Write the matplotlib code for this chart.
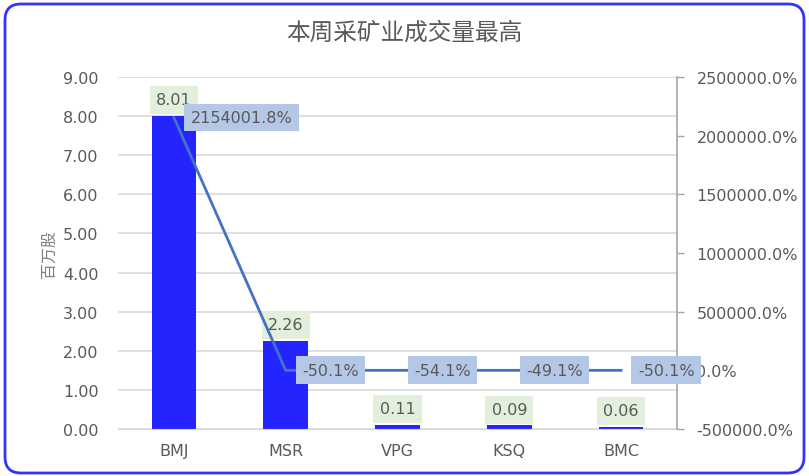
import matplotlib
matplotlib.use("Agg")
import matplotlib.pyplot as plt
from matplotlib.patches import FancyBboxPatch
from matplotlib.transforms import IdentityTransform
from matplotlib.ticker import FuncFormatter, MultipleLocator

plt.rcParams['font.family'] = ['DejaVu Sans', 'Noto Sans CJK SC']

categories = ["BMJ", "MSR", "VPG", "KSQ", "BMC"]
volume = [8.01, 2.26, 0.11, 0.09, 0.06]
change_pct = [2154001.8, -50.1, -54.1, -49.1, -50.1]
title = "本周采矿业成交量最高"
ylabel = "百万股"

W, H = 809, 477
fig = plt.figure(figsize=(W / 100, H / 100), dpi=100)
fig.patch.set_facecolor("white")

ax = fig.add_axes([118 / W, (H - 430) / H, (677 - 118) / W, (430 - 78) / H])
ax2 = ax.twinx()

text_color = "#595959"
grid_color = "#D9D9D9"
fs = 11.5

x = list(range(len(categories)))
ax.bar(x, volume, width=0.4, color="#2424FF", zorder=2)
ax.set_xlim(-0.5, len(categories) - 0.5)
ax.set_ylim(0, 9)
ax.yaxis.set_major_locator(MultipleLocator(1))
ax.yaxis.set_major_formatter(FuncFormatter(lambda v, p: f"{v:.2f}"))
ax.grid(axis="y", color=grid_color, linewidth=1.2, zorder=0)
ax.set_axisbelow(True)
for s in ["top", "left", "right"]:
    ax.spines[s].set_visible(False)
ax.spines["bottom"].set_color(grid_color)
ax.tick_params(axis="y", length=0, pad=14, labelsize=fs, labelcolor=text_color)
ax.tick_params(axis="x", length=0, pad=10, labelsize=fs, labelcolor=text_color)
ax.set_xticks(x)
ax.set_xticklabels(categories)
ax.set_ylabel(ylabel, family=["Noto Sans CJK SC"], fontsize=11.5, color="#7F7F7F", labelpad=4)

ax2.plot(x, change_pct, color="#4472C4", linewidth=2, zorder=3)
ax2.set_ylim(-500000, 2500000)
ax2.yaxis.set_major_locator(MultipleLocator(500000))
ax2.yaxis.set_major_formatter(FuncFormatter(lambda v, p: f"{v:.1f}%"))
for s in ["top", "left", "bottom"]:
    ax2.spines[s].set_visible(False)
ax2.spines["right"].set_color("#A6A6A6")
ax2.spines["right"].set_linewidth(1.2)
ax2.tick_params(axis="y", length=5, width=1, color="#A6A6A6", pad=9,
                labelsize=fs, labelcolor=text_color)

# bar data labels
for xi, v in zip(x, volume):
    ax.annotate(f"{v:.2f}", xy=(xi, v), xytext=(0, 6), textcoords="offset points",
                ha="center", va="bottom", fontsize=fs, color=text_color, zorder=5,
                bbox=dict(boxstyle="square,pad=0.4", facecolor="#E2EFDA", edgecolor="none"))

# line data labels
for xi, v in zip(x, change_pct):
    ax2.annotate(f"{v:.1f}%", xy=(xi, v), xytext=(12, 0), textcoords="offset points",
                 ha="left", va="center", fontsize=fs, color=text_color, zorder=6,
                 bbox=dict(boxstyle="square,pad=0.4", facecolor="#B4C7E7", edgecolor="none"))

fig.text(0.5, (H - 33) / H, title, ha="center", va="center", fontsize=17,
         color=text_color, family=["Noto Sans CJK SC"])

border = FancyBboxPatch((5, 3), 799, 469, boxstyle="round,pad=0,rounding_size=16",
                        transform=IdentityTransform(), facecolor="none",
                        edgecolor="#3333FF", linewidth=2, zorder=10)
fig.patches.append(border)

fig.savefig("out.png", dpi=100)
